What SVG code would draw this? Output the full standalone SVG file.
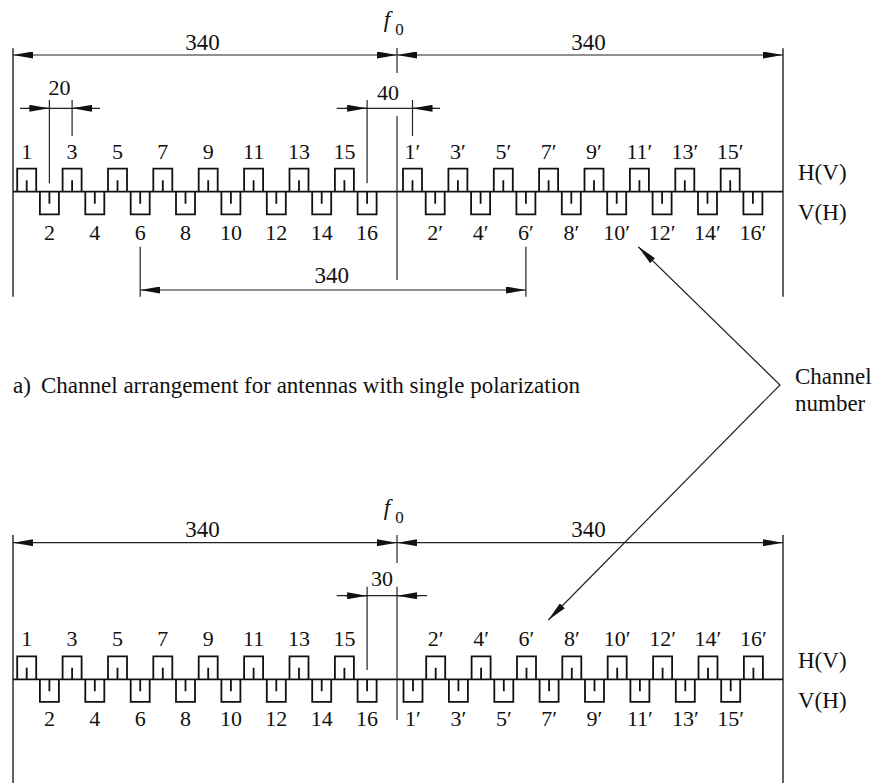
<svg xmlns="http://www.w3.org/2000/svg" width="875" height="783" viewBox="0 0 875 783">
<style>
.t{font-family:'Liberation Serif','Times New Roman',Tinos,'DejaVu Serif',serif;font-size:22px;fill:#111;text-anchor:middle}
.s{font-family:'Liberation Serif','Times New Roman',Tinos,'DejaVu Serif',serif;font-size:23px;fill:#111}
.p{fill:none;stroke:#111;stroke-width:1.8}
.d{fill:none;stroke:#222;stroke-width:1.2}
.b{fill:none;stroke:#222;stroke-width:1.4}
.a{marker-start:url(#ah);marker-end:url(#ah)}
.e{marker-end:url(#ah)}
</style>
<defs>
<marker id="ah" viewBox="0 0 20 7" markerWidth="20" markerHeight="7" refX="20" refY="3.5" orient="auto-start-reverse" markerUnits="userSpaceOnUse">
<path d="M0,0 L20,3.5 L0,7 Z" fill="#111"/>
</marker>
<path id="hp" class="p" d="M-9.5,0 V-23 H9.5 V0 M0,0 V-11.5"/>
<path id="vp" class="p" d="M-9.5,0 V22.6 H9.5 V0 M0,0 V12"/>
</defs>
<rect width="875" height="783" fill="#fff"/>

<g id="connectors">
<line class="b" x1="13" y1="48.3" x2="13" y2="296.7"/>
<line class="b" x1="783" y1="48.3" x2="783" y2="296.7"/>
<line class="d a" x1="13" y1="55" x2="397" y2="55"/>
<line class="d a" x1="397" y1="55" x2="783" y2="55"/>
<line class="d" x1="397" y1="48" x2="397" y2="73"/>
<line class="p" x1="13" y1="191.7" x2="783" y2="191.7"/>
<line class="d" x1="20" y1="108.3" x2="100" y2="108.3"/>
<line class="d e" x1="28" y1="108.3" x2="49.4" y2="108.3"/>
<line class="d e" x1="93" y1="108.3" x2="72.1" y2="108.3"/>
<line class="d" x1="49.4" y1="100" x2="49.4" y2="183.3"/>
<line class="d" x1="72.1" y1="100" x2="72.1" y2="136"/>
<line class="d" x1="336.7" y1="108.3" x2="440" y2="108.3"/>
<line class="d e" x1="345" y1="108.3" x2="367.1" y2="108.3"/>
<line class="d e" x1="434" y1="108.3" x2="412.5" y2="108.3"/>
<line class="d" x1="367.1" y1="100" x2="367.1" y2="183.3"/>
<line class="d" x1="412.5" y1="100" x2="412.5" y2="136"/>
<line class="d" x1="397" y1="116" x2="397" y2="280"/>
<line class="d a" x1="140.2" y1="290" x2="525.9" y2="290"/>
<line class="d" x1="140.2" y1="246.7" x2="140.2" y2="296.7"/>
<line class="d" x1="525.9" y1="246.7" x2="525.9" y2="296.7"/>
<polyline class="d a" points="638.3,246.7 780,385 548.3,620"/>
<line class="b" x1="13" y1="535" x2="13" y2="783"/>
<line class="b" x1="783" y1="535" x2="783" y2="783"/>
<line class="d a" x1="13" y1="542.7" x2="397" y2="542.7"/>
<line class="d a" x1="397" y1="542.7" x2="783" y2="542.7"/>
<line class="d" x1="397" y1="535" x2="397" y2="563"/>
<line class="p" x1="13" y1="679.3" x2="783" y2="679.3"/>
<line class="d" x1="336.7" y1="595.7" x2="427" y2="595.7"/>
<line class="d e" x1="345" y1="595.7" x2="367.1" y2="595.7"/>
<line class="d e" x1="419" y1="595.7" x2="397" y2="595.7"/>
<line class="d" x1="367.1" y1="586.7" x2="367.1" y2="670"/>
<line class="d" x1="397" y1="586.7" x2="397" y2="720"/>
</g>

<g id="labels">
<text class="t" x="202.5" y="50" style="font-size:23px">340</text>
<text class="t" x="588.5" y="50" style="font-size:23px">340</text>
<text class="t" x="387" y="27" style="font-style:italic;font-size:23px">f</text>
<text class="t" x="399.5" y="35" style="font-size:17px">0</text>
<text class="t" x="59.5" y="95">20</text>
<text class="t" x="388" y="100">40</text>
<text class="t" x="331.7" y="283.3" style="font-size:23px">340</text>
<text class="s" x="798" y="180">H(V)</text>
<text class="s" x="798" y="220">V(H)</text>
<text class="s" x="13" y="393">a)<tspan x="41">Channel arrangement for antennas with single polarization</tspan></text>
<text class="s" x="795" y="384">Channel</text>
<text class="s" x="795" y="411">number</text>
<text class="t" x="202.5" y="537.3" style="font-size:23px">340</text>
<text class="t" x="588.5" y="537.3" style="font-size:23px">340</text>
<text class="t" x="387" y="514.7" style="font-style:italic;font-size:23px">f</text>
<text class="t" x="399.5" y="522.7" style="font-size:17px">0</text>
<text class="t" x="382" y="586">30</text>
<text class="s" x="798" y="668">H(V)</text>
<text class="s" x="798" y="708">V(H)</text>
</g>

<g id="top-channels">
<g id="t1"><use href="#hp" x="26.7" y="191.7"/><text class="t" x="26.7" y="159">1</text></g>
<g id="t2"><use href="#vp" x="49.4" y="191.7"/><text class="t" x="49.4" y="240">2</text></g>
<g id="t3"><use href="#hp" x="72.1" y="191.7"/><text class="t" x="72.1" y="159">3</text></g>
<g id="t4"><use href="#vp" x="94.8" y="191.7"/><text class="t" x="94.8" y="240">4</text></g>
<g id="t5"><use href="#hp" x="117.5" y="191.7"/><text class="t" x="117.5" y="159">5</text></g>
<g id="t6"><use href="#vp" x="140.2" y="191.7"/><text class="t" x="140.2" y="240">6</text></g>
<g id="t7"><use href="#hp" x="162.8" y="191.7"/><text class="t" x="162.8" y="159">7</text></g>
<g id="t8"><use href="#vp" x="185.5" y="191.7"/><text class="t" x="185.5" y="240">8</text></g>
<g id="t9"><use href="#hp" x="208.2" y="191.7"/><text class="t" x="208.2" y="159">9</text></g>
<g id="t10"><use href="#vp" x="230.9" y="191.7"/><text class="t" x="230.9" y="240">10</text></g>
<g id="t11"><use href="#hp" x="253.6" y="191.7"/><text class="t" x="253.6" y="159">11</text></g>
<g id="t12"><use href="#vp" x="276.3" y="191.7"/><text class="t" x="276.3" y="240">12</text></g>
<g id="t13"><use href="#hp" x="299" y="191.7"/><text class="t" x="299" y="159">13</text></g>
<g id="t14"><use href="#vp" x="321.7" y="191.7"/><text class="t" x="321.7" y="240">14</text></g>
<g id="t15"><use href="#hp" x="344.4" y="191.7"/><text class="t" x="344.4" y="159">15</text></g>
<g id="t16"><use href="#vp" x="367.1" y="191.7"/><text class="t" x="367.1" y="240">16</text></g>
<g id="t1p"><use href="#hp" x="412.5" y="191.7"/><text class="t" x="412.5" y="159">1′</text></g>
<g id="t2p"><use href="#vp" x="435.2" y="191.7"/><text class="t" x="435.2" y="240">2′</text></g>
<g id="t3p"><use href="#hp" x="457.9" y="191.7"/><text class="t" x="457.9" y="159">3′</text></g>
<g id="t4p"><use href="#vp" x="480.6" y="191.7"/><text class="t" x="480.6" y="240">4′</text></g>
<g id="t5p"><use href="#hp" x="503.3" y="191.7"/><text class="t" x="503.3" y="159">5′</text></g>
<g id="t6p"><use href="#vp" x="525.9" y="191.7"/><text class="t" x="525.9" y="240">6′</text></g>
<g id="t7p"><use href="#hp" x="548.6" y="191.7"/><text class="t" x="548.6" y="159">7′</text></g>
<g id="t8p"><use href="#vp" x="571.3" y="191.7"/><text class="t" x="571.3" y="240">8′</text></g>
<g id="t9p"><use href="#hp" x="594" y="191.7"/><text class="t" x="594" y="159">9′</text></g>
<g id="t10p"><use href="#vp" x="616.7" y="191.7"/><text class="t" x="616.7" y="240">10′</text></g>
<g id="t11p"><use href="#hp" x="639.4" y="191.7"/><text class="t" x="639.4" y="159">11′</text></g>
<g id="t12p"><use href="#vp" x="662.1" y="191.7"/><text class="t" x="662.1" y="240">12′</text></g>
<g id="t13p"><use href="#hp" x="684.8" y="191.7"/><text class="t" x="684.8" y="159">13′</text></g>
<g id="t14p"><use href="#vp" x="707.5" y="191.7"/><text class="t" x="707.5" y="240">14′</text></g>
<g id="t15p"><use href="#hp" x="730.2" y="191.7"/><text class="t" x="730.2" y="159">15′</text></g>
<g id="t16p"><use href="#vp" x="752.9" y="191.7"/><text class="t" x="752.9" y="240">16′</text></g>
</g>

<g id="bottom-channels">
<g id="b1"><use href="#hp" x="26.7" y="679.3"/><text class="t" x="26.7" y="646">1</text></g>
<g id="b2"><use href="#vp" x="49.4" y="679.3"/><text class="t" x="49.4" y="726">2</text></g>
<g id="b3"><use href="#hp" x="72.1" y="679.3"/><text class="t" x="72.1" y="646">3</text></g>
<g id="b4"><use href="#vp" x="94.8" y="679.3"/><text class="t" x="94.8" y="726">4</text></g>
<g id="b5"><use href="#hp" x="117.5" y="679.3"/><text class="t" x="117.5" y="646">5</text></g>
<g id="b6"><use href="#vp" x="140.2" y="679.3"/><text class="t" x="140.2" y="726">6</text></g>
<g id="b7"><use href="#hp" x="162.8" y="679.3"/><text class="t" x="162.8" y="646">7</text></g>
<g id="b8"><use href="#vp" x="185.5" y="679.3"/><text class="t" x="185.5" y="726">8</text></g>
<g id="b9"><use href="#hp" x="208.2" y="679.3"/><text class="t" x="208.2" y="646">9</text></g>
<g id="b10"><use href="#vp" x="230.9" y="679.3"/><text class="t" x="230.9" y="726">10</text></g>
<g id="b11"><use href="#hp" x="253.6" y="679.3"/><text class="t" x="253.6" y="646">11</text></g>
<g id="b12"><use href="#vp" x="276.3" y="679.3"/><text class="t" x="276.3" y="726">12</text></g>
<g id="b13"><use href="#hp" x="299" y="679.3"/><text class="t" x="299" y="646">13</text></g>
<g id="b14"><use href="#vp" x="321.7" y="679.3"/><text class="t" x="321.7" y="726">14</text></g>
<g id="b15"><use href="#hp" x="344.4" y="679.3"/><text class="t" x="344.4" y="646">15</text></g>
<g id="b16"><use href="#vp" x="367.1" y="679.3"/><text class="t" x="367.1" y="726">16</text></g>
<g id="b1p"><use href="#vp" x="413" y="679.3"/><text class="t" x="413" y="726">1′</text></g>
<g id="b2p"><use href="#hp" x="435.7" y="679.3"/><text class="t" x="435.7" y="646">2′</text></g>
<g id="b3p"><use href="#vp" x="458.4" y="679.3"/><text class="t" x="458.4" y="726">3′</text></g>
<g id="b4p"><use href="#hp" x="481.1" y="679.3"/><text class="t" x="481.1" y="646">4′</text></g>
<g id="b5p"><use href="#vp" x="503.8" y="679.3"/><text class="t" x="503.8" y="726">5′</text></g>
<g id="b6p"><use href="#hp" x="526.5" y="679.3"/><text class="t" x="526.5" y="646">6′</text></g>
<g id="b7p"><use href="#vp" x="549.1" y="679.3"/><text class="t" x="549.1" y="726">7′</text></g>
<g id="b8p"><use href="#hp" x="571.8" y="679.3"/><text class="t" x="571.8" y="646">8′</text></g>
<g id="b9p"><use href="#vp" x="594.5" y="679.3"/><text class="t" x="594.5" y="726">9′</text></g>
<g id="b10p"><use href="#hp" x="617.2" y="679.3"/><text class="t" x="617.2" y="646">10′</text></g>
<g id="b11p"><use href="#vp" x="639.9" y="679.3"/><text class="t" x="639.9" y="726">11′</text></g>
<g id="b12p"><use href="#hp" x="662.6" y="679.3"/><text class="t" x="662.6" y="646">12′</text></g>
<g id="b13p"><use href="#vp" x="685.3" y="679.3"/><text class="t" x="685.3" y="726">13′</text></g>
<g id="b14p"><use href="#hp" x="708" y="679.3"/><text class="t" x="708" y="646">14′</text></g>
<g id="b15p"><use href="#vp" x="730.7" y="679.3"/><text class="t" x="730.7" y="726">15′</text></g>
<g id="b16p"><use href="#hp" x="753.4" y="679.3"/><text class="t" x="753.4" y="646">16′</text></g>
</g>
</svg>
